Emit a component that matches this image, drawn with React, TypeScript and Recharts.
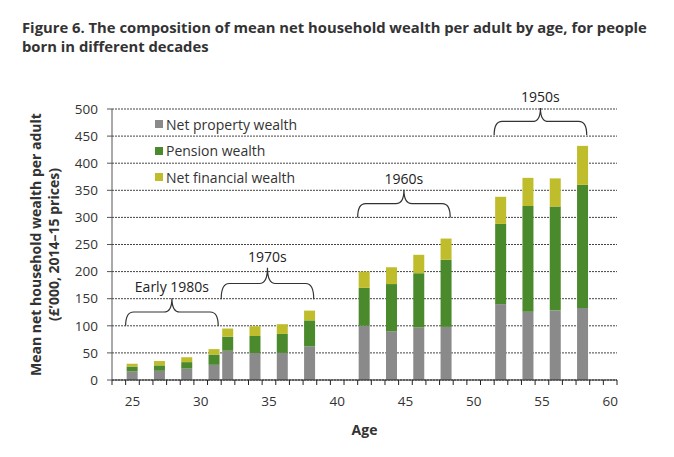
import React from 'react';
import {
  BarChart, Bar, XAxis, YAxis, CartesianGrid, Legend, ReferenceArea,
} from 'recharts';

const FONT = '"Open Sans", sans-serif';
const TEXT = '#333333';

// x axis runs one category per year of age
const AXIS_AGES = Array.from({ length: 37 }, (_, i) => 24 + i);
const AGE_LABELS = [25, 30, 35, 40, 45, 50, 55, 60];
const Y_TICKS = [0, 50, 100, 150, 200, 250, 300, 350, 400, 450, 500];

const BAR_AGES = [25, 27, 29, 31, 32, 34, 36, 38, 42, 44, 46, 48, 52, 54, 56, 58];
const PROPERTY = [16, 17, 21, 28, 54, 50, 50, 62, 100, 90, 97, 98, 140, 126, 128, 133];
const PENSION = [9, 10, 12, 19, 26, 31, 35, 48, 70, 87, 100, 124, 148, 195, 192, 227];
const FINANCIAL = [5, 8, 9, 10, 15, 18, 18, 18, 30, 31, 34, 39, 50, 52, 52, 72];

const SERIES = [
  { key: 'property', name: 'Net property wealth', color: '#8a8a8a' },
  { key: 'pension', name: 'Pension wealth', color: '#4b8a2c' },
  { key: 'financial', name: 'Net financial wealth', color: '#bfbd2b' },
];

// birth cohort brackets
const COHORTS = ['Early 1980s', '1970s', '1960s', '1950s'];
const COHORT_FROM = [25, 32, 42, 52];
const COHORT_TO = [31, 38, 48, 58];
const BRACE_LOW = [100, 149, 300, 452];
const BRACE_HIGH = [151, 207, 351, 502];

const data = AXIS_AGES.map((age) => {
  const i = BAR_AGES.indexOf(age);
  if (i < 0) return { age };
  return { age, property: PROPERTY[i], pension: PENSION[i], financial: FINANCIAL[i] };
});

const AgeTick = (props: any) => {
  const { x, y, payload, index } = props;
  const half = 505 / AXIS_AGES.length / 2;
  const last = index === AXIS_AGES.length - 1;
  return (
    <g>
      <line x1={x - half} x2={x - half} y1={y} y2={y + 5} stroke="#222" />
      {last && <line x1={x + half} x2={x + half} y1={y} y2={y + 5} stroke="#222" />}
      {AGE_LABELS.includes(payload.value) && (
        <text x={x} y={y + 26} textAnchor="middle" fontSize={13.5} fill={TEXT} fontFamily={FONT}>
          {payload.value}
        </text>
      )}
    </g>
  );
};

const makeBrace = (label: string) => (props: any) => {
  const { x, y, width, height } = props;
  const x0 = x;
  const x1 = x + width - 3;
  const xm = (x0 + x1) / 2;
  const yEnd = y + height;
  const yTop = y;
  const yFlat = (yEnd + yTop) / 2;
  const r = 8;
  const d = `M${x0},${yEnd} Q${x0},${yFlat} ${x0 + r},${yFlat} L${xm - r},${yFlat} `
    + `Q${xm},${yFlat} ${xm},${yTop} Q${xm},${yFlat} ${xm + r},${yFlat} `
    + `L${x1 - r},${yFlat} Q${x1},${yFlat} ${x1},${yEnd}`;
  return (
    <g>
      <path d={d} fill="none" stroke="#333" strokeWidth={1.2} />
      <text x={xm} y={yTop - 6} textAnchor="middle" fontSize={14} fill="#222" fontFamily={FONT}>
        {label}
      </text>
    </g>
  );
};

const LegendBox = () => (
  <div style={{ fontFamily: FONT, fontSize: 14, color: TEXT }}>
    {SERIES.map((s) => (
      <div key={s.key} style={{ display: 'flex', alignItems: 'center', height: 26.5 }}>
        <span style={{ width: 8, height: 8, background: s.color, marginRight: 3 }} />
        {s.name}
      </div>
    ))}
  </div>
);

const YLabel = (props: any) => {
  const cy = props.viewBox ? props.viewBox.y + props.viewBox.height / 2 : 245;
  return (
    <g fontFamily={FONT} fontSize={14} fontWeight={700} fill={TEXT} textAnchor="middle">
      <text transform={`translate(41,${cy}) rotate(-90)`}>Mean net household wealth per adult</text>
      <text transform={`translate(59,${cy}) rotate(-90)`}>(£’000, 2014–15 prices)</text>
    </g>
  );
};

export default function App() {
  return (
    <div style={{ position: 'absolute', left: 0, top: 0, width: 674, height: 457, background: '#fff' }}>
      <div
        style={{
          position: 'absolute', left: 22, top: 18, fontFamily: FONT, fontWeight: 700,
          fontSize: 14.8, lineHeight: '19px', color: TEXT, whiteSpace: 'nowrap',
        }}
      >
        Figure 6. The composition of mean net household wealth per adult by age, for people
        <br />
        born in different decades
      </div>
      <BarChart
        width={674}
        height={457}
        data={data}
        margin={{ top: 109, right: 57, bottom: 0, left: 0 }}
      >
        <CartesianGrid vertical={false} stroke="#444" strokeDasharray="2 1" />
        <XAxis
          dataKey="age"
          type="category"
          height={77}
          interval={0}
          tickSize={0}
          tickMargin={0}
          tickLine={false}
          axisLine={{ stroke: '#222' }}
          tick={<AgeTick />}
          label={{
            value: 'Age', position: 'insideBottom', offset: 22,
            style: { fontFamily: FONT, fontSize: 14, fontWeight: 700, fill: TEXT },
          }}
        />
        <YAxis
          type="number"
          width={112}
          domain={[0, 500]}
          ticks={Y_TICKS}
          interval={0}
          tickSize={5}
          tickMargin={9}
          axisLine={{ stroke: '#555' }}
          tickLine={{ stroke: '#555' }}
          tick={{ fontSize: 13.5, fill: TEXT, fontFamily: FONT }}
          label={<YLabel />}
        />
        <Legend
          layout="vertical"
          align="center"
          verticalAlign="middle"
          content={<LegendBox />}
          wrapperStyle={{ left: 155, top: 111, width: 200, height: 81 }}
        />
        {SERIES.map((s) => (
          <Bar
            key={s.key}
            dataKey={s.key}
            name={s.name}
            stackId="w"
            fill={s.color}
            barSize={11}
            isAnimationActive={false}
          />
        ))}
        {COHORTS.map((c, i) => (
          <ReferenceArea
            key={c}
            x1={COHORT_FROM[i]}
            x2={COHORT_TO[i]}
            y1={BRACE_LOW[i]}
            y2={BRACE_HIGH[i]}
            ifOverflow="visible"
            shape={makeBrace(c)}
          />
        ))}
      </BarChart>
    </div>
  );
}
